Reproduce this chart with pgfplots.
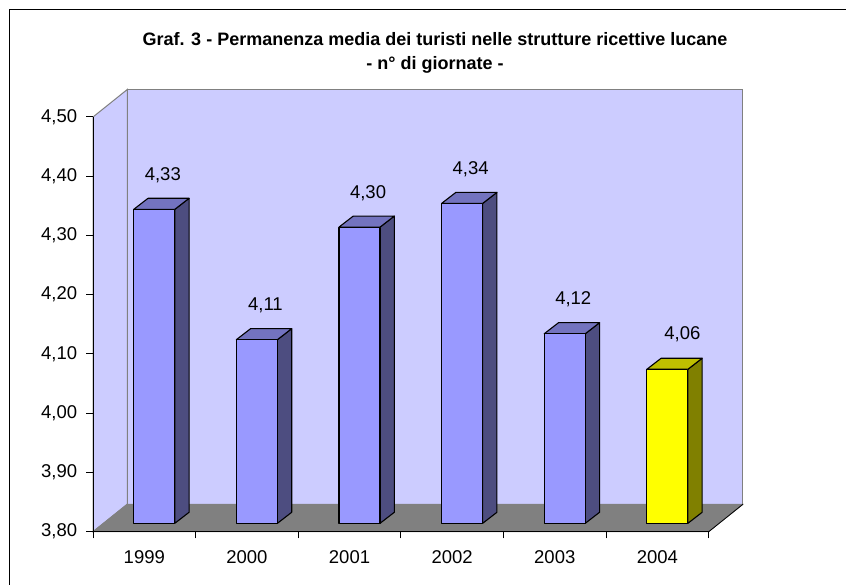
\documentclass[border=0pt]{standalone}
\usepackage{pgfplots}
\pgfplotsset{compat=1.18}
\usepackage{fontspec}
\setmainfont{Liberation Sans}
\definecolor{wall}{HTML}{CCCCFF}
\definecolor{floorc}{HTML}{808080}
\definecolor{barf}{HTML}{9999FF}
\definecolor{bart}{HTML}{7373BF}
\definecolor{bars}{HTML}{4D4D80}
\definecolor{yelf}{HTML}{FFFF00}
\definecolor{yelt}{HTML}{BFBF00}
\definecolor{yels}{HTML}{808000}
\tikzset{
  face/.style={draw=black,line width=1.1pt,line join=round},
  nf/.style={/pgf/number format/fixed,/pgf/number format/fixed zerofill,/pgf/number format/precision=2,/pgf/number format/use comma,/pgf/number format/assume math mode=true}
}
\begin{document}
\begin{tikzpicture}[x=1pt,y=1pt]
\path[use as bounding box] (0,0) rectangle (846,585);
\draw[black,line width=1pt] (9.5,0) -- (9.5,575) -- (846,575);
\node[font=\fontsize{18}{24}\selectfont\bfseries,align=center,anchor=center] at (435,532) {Graf. 3 - Permanenza media dei turisti nelle strutture ricettive lucane\\- n° di giornate -};
% walls, floor, axis lines and ticks
\begin{axis}[
  at={(93pt,53.3pt)},anchor=south west,
  scale only axis,width=615.7pt,height=414.7pt,
  xmin=0,xmax=6,ymin=3.8,ymax=4.5,clip=false,
  axis x line*=bottom,axis y line*=left,
  axis line style={-,black,line width=1pt},
  axis on top,
  tick style={black,line width=1pt},
  tick align=outside,
  major tick length=6.7pt,
  xtick={0,1,2,3,4,5,6},xticklabels={},
  extra x ticks={0.5,1.5,2.5,3.5,4.5,5.5},
  extra x tick labels={1999,2000,2001,2002,2003,2004},
  extra x tick style={major tick length=0pt,
    tick label style={font=\fontsize{18.5}{22}\selectfont,inner sep=0pt,anchor=center,yshift=-25pt}},
  ytick={3.8,3.9,4.0,4.1,4.2,4.3,4.4,4.5},
  yticklabel style={font=\fontsize{18.5}{22}\selectfont,inner sep=0pt,xshift=-9pt,nf},
]
\addplot[fill=wall,draw=floorc,line width=1pt] coordinates {(0,3.8) (0.334,3.8464) (0.334,4.5464) (0,4.5)} --cycle;
\addplot[fill=wall,draw=floorc,line width=1pt] coordinates {(0.334,3.8464) (6.334,3.8464) (6.334,4.5464) (0.334,4.5464)} --cycle;
\addplot[fill=floorc,draw=floorc,line width=0.8pt] coordinates {(0,3.8) (6,3.8) (6.334,3.8464) (0.334,3.8464)} --cycle;
\addplot[black,line width=0.8pt] coordinates {(6,3.8) (6.334,3.8464)};
\end{axis}
% bars
\begin{axis}[
  at={(103pt,61.7pt)},anchor=south west,
  scale only axis,width=615.7pt,height=414.7pt,
  xmin=0,xmax=6,ymin=3.8,ymax=4.5,clip=false,hide axis,
  nodes near coords style={font=\fontsize{18.5}{22}\selectfont,anchor=center,inner sep=0pt,nf},
]
% side faces
\addplot[face,fill=bars] coordinates {(0.7,3.8) (0.839,3.8186) (0.839,4.3486) (0.7,4.33)} --cycle;
\addplot[face,fill=bars] coordinates {(1.7,3.8) (1.839,3.8186) (1.839,4.1286) (1.7,4.11)} --cycle;
\addplot[face,fill=bars] coordinates {(2.7,3.8) (2.839,3.8186) (2.839,4.3186) (2.7,4.30)} --cycle;
\addplot[face,fill=bars] coordinates {(3.7,3.8) (3.839,3.8186) (3.839,4.3586) (3.7,4.34)} --cycle;
\addplot[face,fill=bars] coordinates {(4.7,3.8) (4.839,3.8186) (4.839,4.1386) (4.7,4.12)} --cycle;
\addplot[face,fill=yels] coordinates {(5.7,3.8) (5.839,3.8186) (5.839,4.0786) (5.7,4.06)} --cycle;
% top faces
\addplot[face,fill=bart] coordinates {(0.3,4.33) (0.7,4.33) (0.839,4.3486) (0.439,4.3486)} --cycle;
\addplot[face,fill=bart] coordinates {(1.3,4.11) (1.7,4.11) (1.839,4.1286) (1.439,4.1286)} --cycle;
\addplot[face,fill=bart] coordinates {(2.3,4.30) (2.7,4.30) (2.839,4.3186) (2.439,4.3186)} --cycle;
\addplot[face,fill=bart] coordinates {(3.3,4.34) (3.7,4.34) (3.839,4.3586) (3.439,4.3586)} --cycle;
\addplot[face,fill=bart] coordinates {(4.3,4.12) (4.7,4.12) (4.839,4.1386) (4.439,4.1386)} --cycle;
\addplot[face,fill=yelt] coordinates {(5.3,4.06) (5.7,4.06) (5.839,4.0786) (5.439,4.0786)} --cycle;
% front faces
\addplot[ybar,bar width=41pt,bar shift=0pt,face,fill=barf,
  nodes near coords,every node near coord/.append style={xshift=8.5pt,yshift=34pt}]
  coordinates {(0.5,4.33) (1.5,4.11) (2.5,4.30) (3.5,4.34) (4.5,4.12)};
\addplot[ybar,bar width=41pt,bar shift=0pt,face,fill=yelf,
  nodes near coords,every node near coord/.append style={xshift=15pt,yshift=35pt}]
  coordinates {(5.5,4.06)};
\end{axis}
\end{tikzpicture}
\end{document}
